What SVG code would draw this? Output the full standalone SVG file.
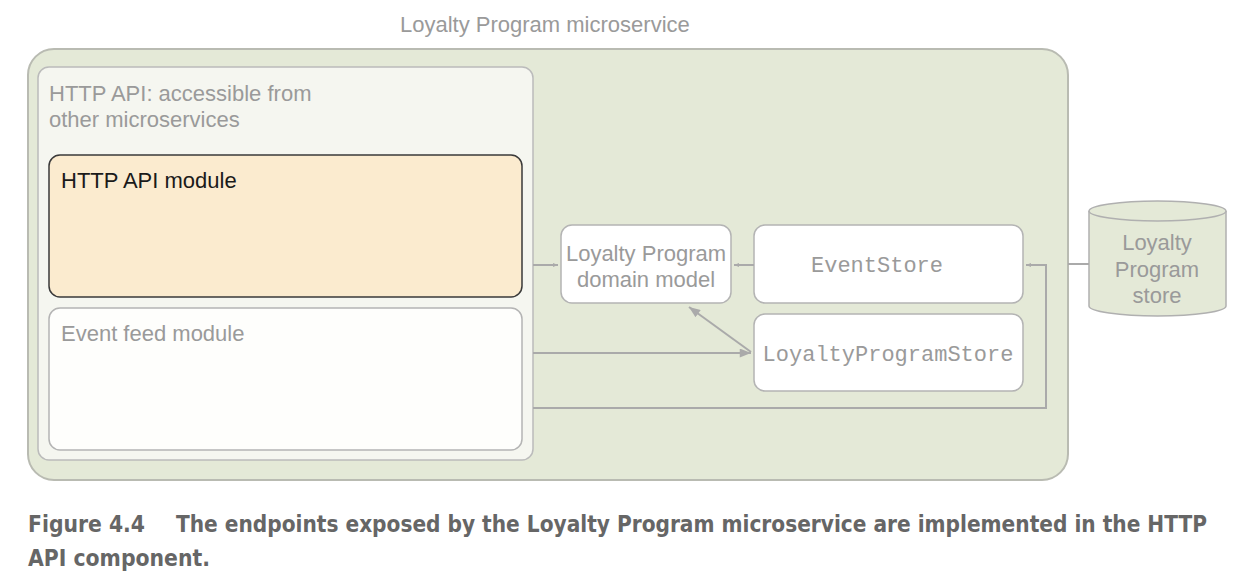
<svg xmlns="http://www.w3.org/2000/svg" width="1260" height="582" viewBox="0 0 1260 582">
<style>
.lbl{font-family:"Liberation Sans",Arial,sans-serif;font-size:22px;fill:#9a9a9a}
.mono{font-family:"Liberation Mono","Courier New",monospace;font-size:22px;fill:#9a9a9a}
.box{fill:#ffffff;stroke:#b4b4b4;stroke-width:1.5}
.conn{fill:none;stroke:#aaaaaa;stroke-width:2}
.cap{font-family:"DejaVu Sans",sans-serif;font-weight:bold;font-stretch:condensed;font-size:22.5px;fill:#666666}
</style>
<defs>
<marker id="ah" viewBox="0 0 10 10" refX="10" refY="5" markerWidth="5" markerHeight="5" orient="auto" markerUnits="userSpaceOnUse">
<path d="M0,1 L10,5 L0,9 Z" fill="#aaaaaa"/>
</marker>
<marker id="ah2" viewBox="0 0 10 8" refX="10" refY="4" markerWidth="12" markerHeight="9" orient="auto" markerUnits="userSpaceOnUse">
<path d="M0,0 L10,4 L0,8 Z" fill="#aaaaaa"/>
</marker>
</defs>
<rect width="1260" height="582" fill="#ffffff"/>
<g id="microservice">
<text class="lbl" x="400" y="32">Loyalty Program microservice</text>
<rect x="28" y="49" width="1040" height="431" rx="26" fill="#e4e9d7" stroke="#b9bbb2" stroke-width="2"/>
</g>
<g id="http-api">
<rect x="38" y="67" width="495" height="393" rx="11" fill="#f5f6f0" stroke="#bbbbbb" stroke-width="1.5"/>
<text class="lbl" x="49" y="101">HTTP API: accessible from</text>
<text class="lbl" x="49" y="127">other microservices</text>
</g>
<g id="http-api-module">
<rect x="49" y="155" width="473" height="142" rx="11" fill="#fbebcf" stroke="#3a3a3a" stroke-width="1.5"/>
<text class="lbl" x="61" y="188" style="fill:#1a1a1a">HTTP API module</text>
</g>
<g id="event-feed-module">
<rect x="49" y="308" width="473" height="142" rx="11" fill="#fefefc" stroke="#b4b4b4" stroke-width="1.5"/>
<text class="lbl" x="61" y="341">Event feed module</text>
</g>
<g id="domain-model">
<rect class="box" x="561" y="225" width="170" height="78" rx="11"/>
<text class="lbl" x="646" y="261" text-anchor="middle">Loyalty Program</text>
<text class="lbl" x="646" y="287" text-anchor="middle">domain model</text>
</g>
<g id="event-store">
<rect class="box" x="754" y="225" width="269" height="78" rx="11"/>
<text class="mono" x="877" y="272" text-anchor="middle">EventStore</text>
</g>
<g id="loyalty-program-store">
<rect class="box" x="754" y="314" width="269" height="77" rx="11"/>
<text class="mono" x="888" y="361" text-anchor="middle">LoyaltyProgramStore</text>
</g>
<g id="store">
<path d="M1089,211 L1089,306 A68.5,10 0 0 0 1226,306 L1226,211" fill="#e4e9d7" stroke="#b0b0b0" stroke-width="1.5"/>
<ellipse cx="1157.5" cy="211" rx="68.5" ry="10" fill="#e4e9d7" stroke="#b0b0b0" stroke-width="1.5"/>
<text class="lbl" x="1157" y="250" text-anchor="middle">Loyalty</text>
<text class="lbl" x="1157" y="277" text-anchor="middle">Program</text>
<text class="lbl" x="1157" y="303" text-anchor="middle">store</text>
</g>
<g id="connectors">
<path class="conn" d="M533,265 L558,265" marker-end="url(#ah)"/>
<path class="conn" d="M754,265 L734,265" marker-end="url(#ah)"/>
<path class="conn" d="M751,352 L689,307" marker-end="url(#ah2)"/>
<path class="conn" d="M533,353 L751,353" marker-end="url(#ah2)"/>
<path class="conn" d="M533,408 L1046,408 L1046,265 L1026,265" marker-end="url(#ah)"/>
<path class="conn" d="M1068,264 L1089,264"/>
</g>
<g id="caption">
<text class="cap" x="28" y="532" textLength="117" lengthAdjust="spacingAndGlyphs">Figure 4.4</text>
<text class="cap" x="176" y="532" textLength="1031" lengthAdjust="spacingAndGlyphs">The endpoints exposed by the Loyalty Program microservice are implemented in the HTTP</text>
<text class="cap" x="28" y="566" textLength="182" lengthAdjust="spacingAndGlyphs">API component.</text>
</g>
</svg>
